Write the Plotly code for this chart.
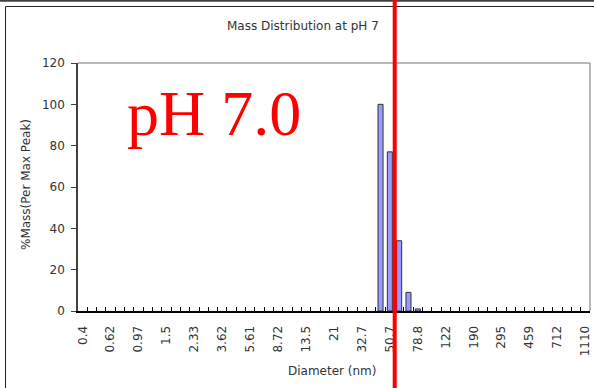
import plotly.graph_objects as go

# Diameter bins (nm) - category axis
diameters = ["0.4", "0.463", "0.536", "0.62", "0.719", "0.833", "0.97", "1.12", "1.29",
             "1.5", "1.73", "2.01", "2.33", "2.69", "3.12", "3.62", "4.19", "4.85",
             "5.61", "6.5", "7.53", "8.72", "10.1", "11.7", "13.5", "15.7", "18.1",
             "21", "24.3", "28.2", "32.7", "37.8", "43.8", "50.7", "58.7", "68",
             "78.8", "91.2", "106", "122", "141", "164", "190", "220", "255",
             "295", "342", "396", "459", "531", "615", "712", "825", "955", "1110"]
# Labelled ticks
tick_labels = ["0.4", "0.62", "0.97", "1.5", "2.33", "3.62", "5.61", "8.72", "13.5",
               "21", "32.7", "50.7", "78.8", "122", "190", "295", "459", "712", "1110"]
# %Mass (per max peak) values of the nonzero bins
bar_bins = ["43.8", "50.7", "58.7", "68", "78.8"]
bar_values = [100, 77, 34, 9, 1]

title_text = "Mass Distribution at pH 7"
annot_text = "pH 7.0"

FONT = "DejaVu Sans"
W, H = 594, 388
L, R, T, B = 78, 4, 63, 77
PW, PH = W - L - R, H - T - B


def px(x):
    return (x - L) / PW


def py(y):
    return (H - B - y) / PH


fig = go.Figure()
fig.add_trace(go.Bar(
    x=bar_bins, y=bar_values,
    marker=dict(color="#9999ff", line=dict(color="#333333", width=1)),
))

fig.update_layout(
    width=W, height=H,
    margin=dict(l=L, r=R, t=T, b=B, autoexpand=False),
    paper_bgcolor="white", plot_bgcolor="white",
    showlegend=False, bargap=0.46,
    font=dict(family=FONT, size=12, color="#333333"),
)

fig.update_xaxes(
    type="category", categoryorder="array", categoryarray=diameters,
    range=[-0.5, len(diameters) - 0.5],
    tickmode="array", tickvals=diameters,
    ticktext=[d if d in tick_labels else "" for d in diameters],
    tickangle=-90, tickson="boundaries",
    ticks="inside", ticklen=4, tickcolor="#000000", tickwidth=1,
    showline=True, linecolor="#000000", linewidth=2,
    showgrid=False, zeroline=False,
    tickfont=dict(family=FONT, size=12, color="#333333"),
    ticklabelstandoff=8,
)
fig.update_yaxes(
    range=[0, 120], dtick=20, tick0=0,
    ticks="outside", ticklen=5, tickcolor="#404040",
    showline=True, linecolor="#404040", linewidth=1.5,
    showgrid=False, zeroline=False,
    tickfont=dict(family=FONT, size=12, color="#333333"),
    ticklabelstandoff=4,
)

shapes = [
    # top & right plot border (gray)
    dict(type="line", xref="paper", yref="paper", x0=0, x1=1, y0=1, y1=1,
         line=dict(color="#a0a0a0", width=1.5)),
    dict(type="line", xref="paper", yref="paper", x0=1, x1=1, y0=0, y1=1,
         line=dict(color="#a0a0a0", width=1.5)),
    # outer frame
    dict(type="line", xref="paper", yref="paper", x0=px(-5), x1=px(W + 5), y0=py(0.8), y1=py(0.8),
         line=dict(color="#404040", width=2)),
    dict(type="line", xref="paper", yref="paper", x0=px(5.5), x1=px(W + 5), y0=py(6.5), y1=py(6.5),
         line=dict(color="#222222", width=1)),
    dict(type="line", xref="paper", yref="paper", x0=px(5.5), x1=px(5.5), y0=py(6.5), y1=py(H + 5),
         line=dict(color="#222222", width=1)),
    # red marker line
    dict(type="line", xref="paper", yref="paper", x0=px(394.7), x1=px(394.7), y0=py(H + 5), y1=py(-5),
         line=dict(color="#ff0000", width=4)),
]
fig.update_layout(shapes=shapes)

fig.add_annotation(text=title_text, xref="paper", yref="paper", x=px(303), y=py(25.5),
                   xanchor="center", yanchor="middle", showarrow=False,
                   font=dict(family=FONT, size=12, color="#333333"))
fig.add_annotation(text="Diameter (nm)", xref="paper", yref="paper", x=px(332.5), y=py(371),
                   xanchor="center", yanchor="middle", showarrow=False,
                   font=dict(family=FONT, size=12, color="#333333"))
fig.add_annotation(text="%Mass(Per Max Peak)", xref="paper", yref="paper", x=px(26), y=py(185),
                   xanchor="center", yanchor="middle", showarrow=False, textangle=-90,
                   font=dict(family=FONT, size=12, color="#333333"))
fig.add_annotation(text=annot_text, xref="paper", yref="paper", x=px(214), y=py(113),
                   xanchor="center", yanchor="middle", showarrow=False,
                   font=dict(family="Liberation Serif", size=64, color="#ff0000"))

fig.write_html("out.html")
